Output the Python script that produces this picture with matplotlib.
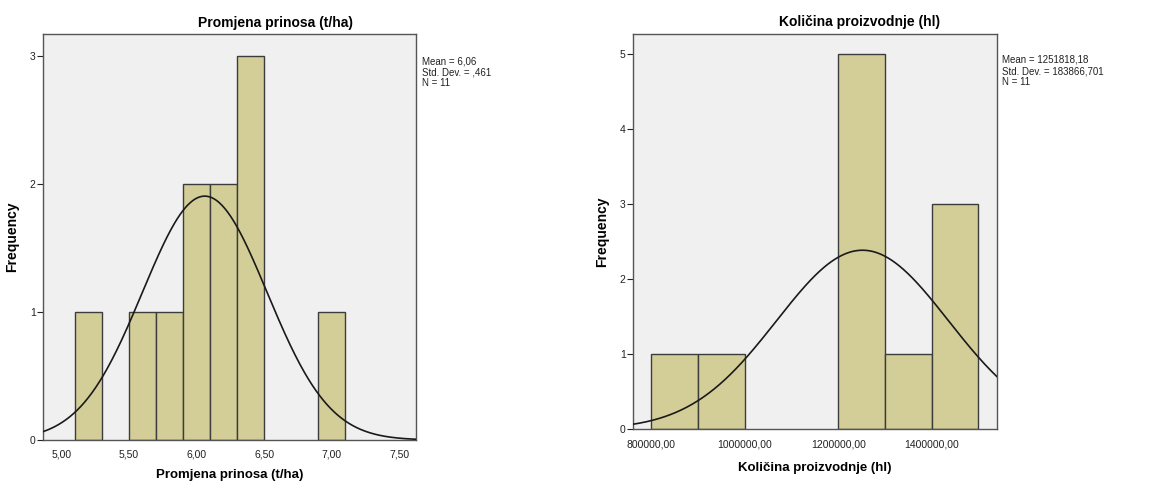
import numpy as np
import matplotlib.pyplot as plt

plt.rcParams['font.family'] = ['Liberation Sans', 'DejaVu Sans']

# left histogram: Promjena prinosa (t/ha)
yield_edges = [5.1, 5.5, 5.7, 5.9, 6.1, 6.3, 6.9]
yield_counts = [1, 1, 1, 2, 2, 3, 1]
yield_width = 0.2
yield_mean, yield_sd, yield_n = 6.06, 0.461, 11
yield_ticks = [5.0, 5.5, 6.0, 6.5, 7.0, 7.5]
yield_ticklabels = ['5,00', '5,50', '6,00', '6,50', '7,00', '7,50']

# right histogram: Količina proizvodnje (hl)
prod_edges = [800000, 900000, 1200000, 1300000, 1400000]
prod_counts = [1, 1, 5, 1, 3]
prod_width = 100000
prod_mean, prod_sd, prod_n = 1251818.18, 183866.701, 11
prod_ticks = [800000, 1000000, 1200000, 1400000]
prod_ticklabels = ['800000,00', '1000000,00', '1200000,00', '1400000,00']

BAR = '#d3ce98'
BG = '#f0f0f0'
EDGE = '#3c3c3c'


def draw_hist(ax, edges, counts, width, mean, sd, n, xlim, ylim,
              ticks, ticklabels, yticks, label, labelpad):
    ax.set_facecolor(BG)
    ax.bar(edges, counts, width=width, align='edge', color=BAR,
           edgecolor=EDGE, linewidth=1.0, zorder=2)
    xs = np.linspace(xlim[0], xlim[1], 400)
    ys = n * width * np.exp(-0.5 * ((xs - mean) / sd) ** 2) / (sd * np.sqrt(2 * np.pi))
    ax.plot(xs, ys, color='#1a1a1a', lw=1.2, zorder=3)
    ax.set_xlim(*xlim)
    ax.set_ylim(*ylim)
    ax.set_xticks(ticks)
    ax.set_xticklabels(ticklabels)
    ax.set_yticks(yticks)
    ax.tick_params(axis='x', length=0, labelsize=7.5, colors='#222222', pad=7)
    ax.tick_params(axis='y', length=4, direction='out', labelsize=7.5, colors='#222222', pad=1)
    for s in ax.spines.values():
        s.set_color('#555555')
        s.set_linewidth(1.0)
    ax.set_xlabel(label, fontsize=9.5, fontweight='bold', labelpad=labelpad)
    ax.set_ylabel('Frequency', fontsize=10, fontweight='bold', labelpad=8)


fig = plt.figure(figsize=(11.61, 4.84), dpi=100)

ax1 = fig.add_axes([0.0368, 0.0909, 0.3213, 0.8382])
draw_hist(ax1, yield_edges, yield_counts, yield_width, yield_mean, yield_sd, yield_n,
          (4.86, 7.623), (0, 3.167), yield_ticks, yield_ticklabels, [0, 1, 2, 3],
          'Promjena prinosa (t/ha)', 7)
fig.text(275 / 1161, 1 - 23 / 484, 'Promjena prinosa (t/ha)', ha='center', va='center',
         fontsize=10, fontweight='bold')
fig.text(422 / 1161, 1 - 56 / 484, 'Mean = 6,06\nStd. Dev. = ,461\nN = 11',
         ha='left', va='top', fontsize=7, linespacing=1.15, color='#222222')

ax2 = fig.add_axes([0.545, 0.113, 0.3135, 0.817])
draw_hist(ax2, prod_edges, prod_counts, prod_width, prod_mean, prod_sd, prod_n,
          (760200, 1539000), (0, 5.27), prod_ticks, prod_ticklabels, [0, 1, 2, 3, 4, 5],
          'Količina proizvodnje (hl)', 9)
fig.text(860 / 1161, 1 - 22 / 484, 'Količina proizvodnje (hl)', ha='center', va='center',
         fontsize=10, fontweight='bold')
fig.text(1002 / 1161, 1 - 55 / 484, 'Mean = 1251818,18\nStd. Dev. = 183866,701\nN = 11',
         ha='left', va='top', fontsize=7, linespacing=1.15, color='#222222')

fig.savefig('out.png', dpi=100)
